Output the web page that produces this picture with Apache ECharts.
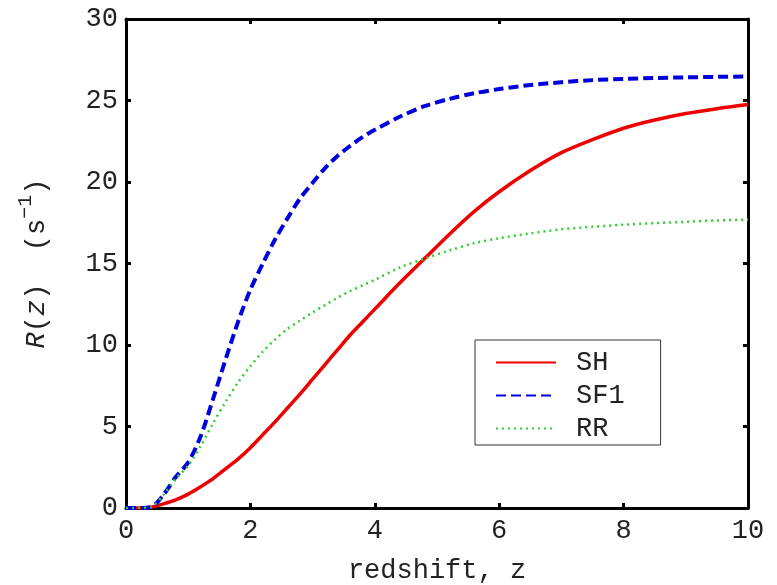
<!DOCTYPE html>
<html>
<head>
<meta charset="utf-8">
<script src="https://cdn.jsdelivr.net/npm/echarts@6/dist/echarts.min.js"></script>
<style>html,body{margin:0;padding:0;background:#fff}#c{width:777px;height:585px}</style>
</head>
<body>
<div id="c"></div>
<script>
// Data
var zValues = [0, 0.2, 0.4, 0.6, 0.8, 1.0, 1.2, 1.4, 1.6, 1.8, 2.0, 2.2, 2.4, 2.6, 2.8, 3.0, 3.2, 3.4, 3.6, 3.8, 4.0, 4.4, 4.8, 5.2, 5.6, 6.0, 6.5, 7.0, 7.5, 8.0, 8.5, 9.0, 9.5, 10];
var seriesSH  = [0, 0, 0.05, 0.25, 0.5, 0.85, 1.3, 1.8, 2.4, 3.0, 3.7, 4.5, 5.3, 6.15, 7.0, 7.9, 8.8, 9.7, 10.6, 11.4, 12.2, 13.8, 15.3, 16.8, 18.2, 19.4, 20.7, 21.8, 22.6, 23.3, 23.8, 24.2, 24.5, 24.75];
var seriesSF1 = [0, 0, 0.05, 0.8, 1.9, 2.8, 4.4, 6.7, 9.1, 11.4, 13.4, 15.0, 16.5, 17.8, 19.0, 19.95, 20.85, 21.6, 22.2, 22.75, 23.2, 24.0, 24.65, 25.1, 25.45, 25.7, 25.95, 26.12, 26.25, 26.32, 26.38, 26.42, 26.45, 26.47];
var seriesRR  = [0, 0, 0.05, 0.8, 1.8, 2.6, 3.8, 5.2, 6.5, 7.7, 8.7, 9.6, 10.35, 11.0, 11.5, 12.0, 12.45, 12.9, 13.3, 13.65, 14.0, 14.75, 15.3, 15.8, 16.25, 16.55, 16.85, 17.1, 17.25, 17.38, 17.48, 17.56, 17.64, 17.7];
var seriesNames = ['SH', 'SF1', 'RR'];
var xTicks = {min: 0, max: 10, interval: 2};
var yTicks = {min: 0, max: 30, interval: 5};

function pairs(ys) { return zValues.map(function (z, i) { return [z, ys[i]]; }); }

var FONT = 'Liberation Mono';
var chart = echarts.init(document.getElementById('c'));
var axisCommon = {
  type: 'value',
  axisLine: {show: true, onZero: false, lineStyle: {color: '#000', width: 3}},
  axisTick: {show: true, inside: true, length: 5, lineStyle: {color: '#000', width: 3}},
  splitLine: {show: false}
};
chart.setOption({
  animation: false,
  backgroundColor: '#fff',
  grid: {left: 126, right: 29, top: 19, bottom: 77, containLabel: false, outerBoundsMode: 'none'},
  xAxis: [
    Object.assign({}, axisCommon, {
      position: 'bottom', min: xTicks.min, max: xTicks.max, interval: xTicks.interval,
      name: 'redshift, z', nameLocation: 'middle', nameGap: 49,
      nameTextStyle: {fontFamily: FONT, fontSize: 27, color: '#222'},
      axisLabel: {margin: 9, fontFamily: FONT, fontSize: 27, color: '#222'}
    }),
    Object.assign({}, axisCommon, {
      position: 'top', min: xTicks.min, max: xTicks.max, interval: xTicks.interval,
      axisLabel: {show: false}
    })
  ],
  yAxis: [
    Object.assign({}, axisCommon, {
      position: 'left', min: yTicks.min, max: yTicks.max, interval: yTicks.interval,
      name: '{it|R}{n|(}{it|z}{n|)  (s}{sup|−1}{n|)}', nameLocation: 'middle', nameGap: 76,
      nameTextStyle: {
        fontFamily: FONT, fontSize: 27, color: '#222',
        rich: {
          n: {fontFamily: FONT, fontSize: 27, color: '#222', lineHeight: 34, verticalAlign: 'bottom'},
          it: {fontFamily: FONT, fontSize: 27, fontStyle: 'italic', color: '#222', lineHeight: 34, verticalAlign: 'bottom'},
          sup: {fontFamily: FONT, fontSize: 20, color: '#222', lineHeight: 34, verticalAlign: 'top'}
        }
      },
      axisLabel: {margin: 8, fontFamily: FONT, fontSize: 27, color: '#222'}
    }),
    Object.assign({}, axisCommon, {
      position: 'right', min: yTicks.min, max: yTicks.max, interval: yTicks.interval,
      axisLabel: {show: false}
    })
  ],
  legend: {
    show: true,
    orient: 'vertical', left: 475, top: 340,
    padding: [9, 36, 3, 20],
    itemGap: 6, itemWidth: 60, itemHeight: 14,
    borderColor: '#333', borderWidth: 1, borderRadius: 0,
    backgroundColor: '#fff',
    itemStyle: {opacity: 0},
    textStyle: {fontFamily: FONT, fontSize: 27, color: '#222', padding: [0, 0, 0, 15]},
    data: seriesNames
  },
  series: [
    {name: seriesNames[0], type: 'line', data: pairs(seriesSH), symbol: 'none', smooth: 0.3,
     lineStyle: {color: '#ee0000', width: 3.5, type: 'solid'}, itemStyle: {color: '#ee0000'}},
    {name: seriesNames[1], type: 'line', data: pairs(seriesSF1), symbol: 'none', smooth: 0.3,
     lineStyle: {color: '#0000dd', width: 4, type: [10, 5]}, itemStyle: {color: '#0000dd'}},
    {name: seriesNames[2], type: 'line', data: pairs(seriesRR), symbol: 'none', smooth: 0.3,
     lineStyle: {color: '#33cc33', width: 2.5, type: [2, 4]}, itemStyle: {color: '#33cc33'}}
  ]
});
</script>
</body>
</html>
